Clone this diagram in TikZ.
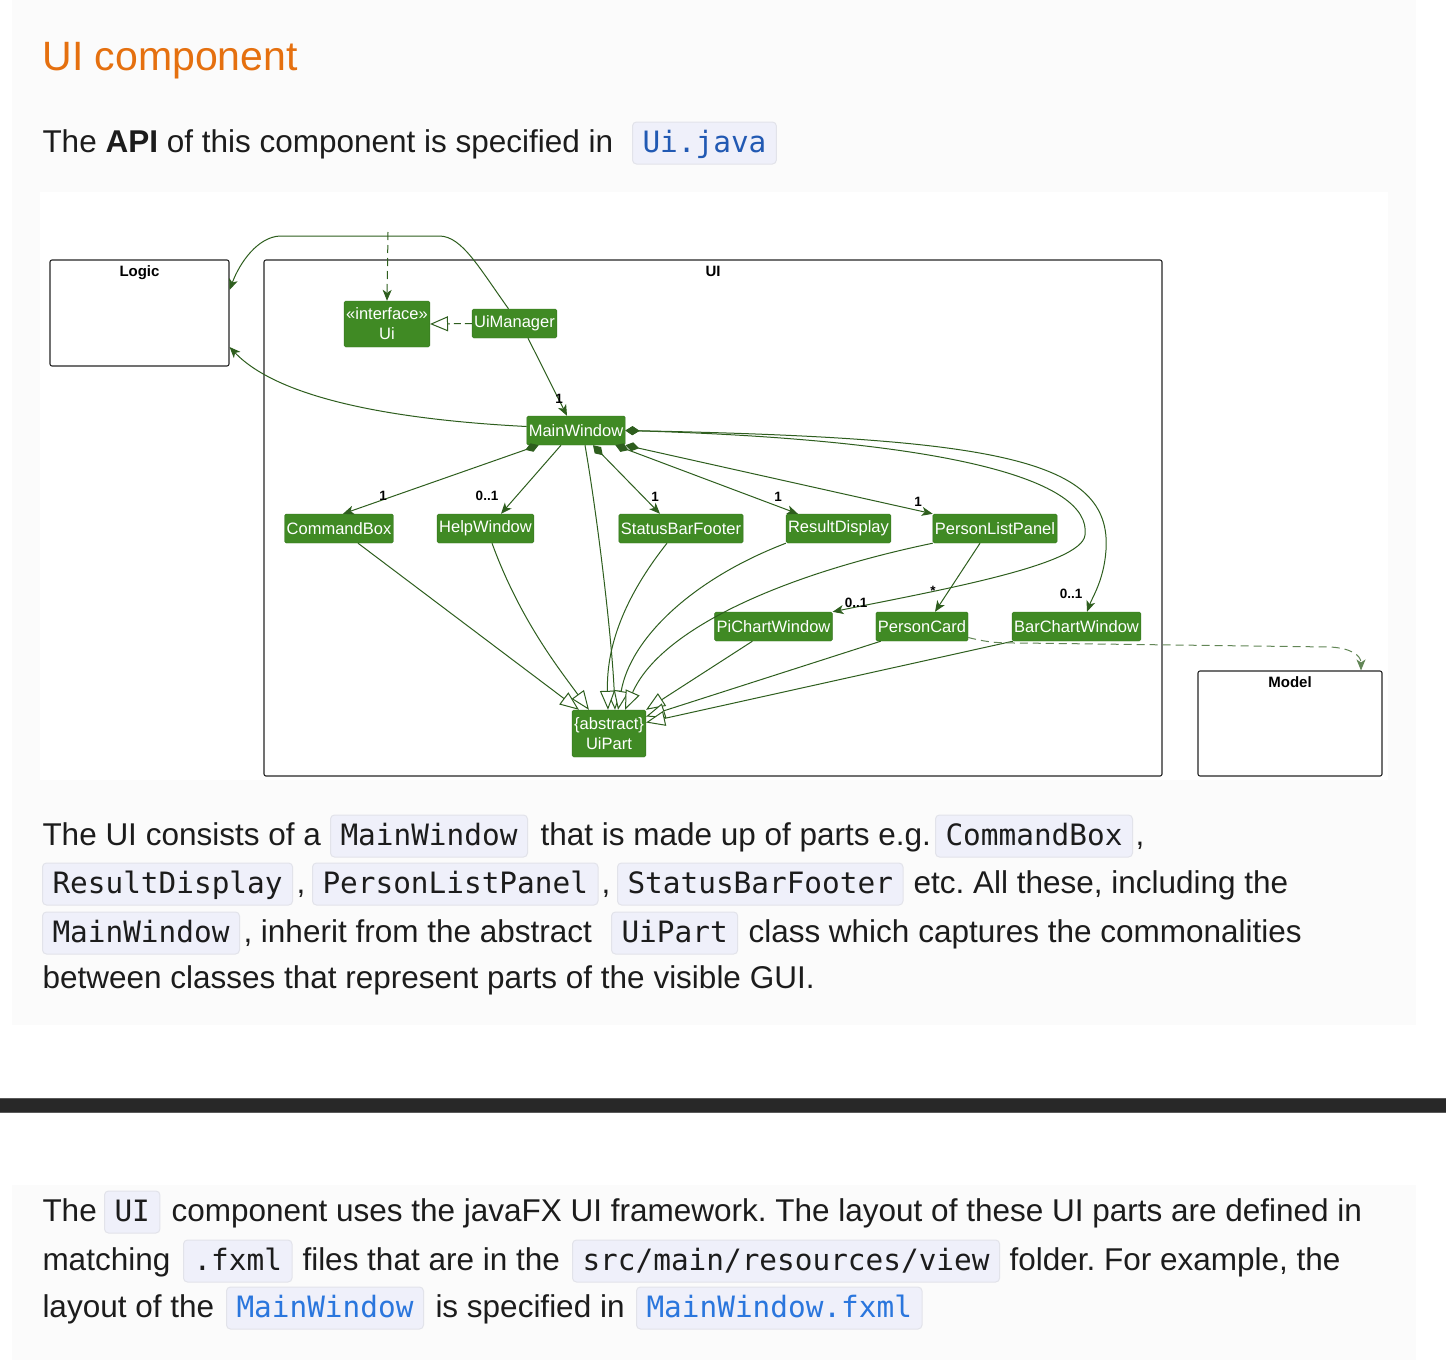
\documentclass[tikz,border=0pt]{standalone}
\usepackage{fontspec}
\setmainfont{Liberation Sans}
\setmonofont{DejaVu Sans Mono}
\usepackage{xcolor}
\usetikzlibrary{arrows.meta,calc,positioning}
\frenchspacing

\definecolor{uigreen}{HTML}{408A24}
\definecolor{uiline}{HTML}{2E5E1E}
\definecolor{pagegray}{HTML}{FBFBFB}
\definecolor{codebg}{HTML}{EFF0FA}
\definecolor{codeborder}{HTML}{E2E3EA}
\definecolor{linkblue}{HTML}{2A76DD}
\definecolor{apiblue}{HTML}{2159B3}
\definecolor{headorange}{HTML}{E5700F}
\definecolor{bodyblack}{HTML}{1C1C1C}
\definecolor{barblack}{HTML}{282828}

\begin{document}
\begin{tikzpicture}[
    x=1pt, y=-1pt,
    line width=1pt,
    cls/.style={fill=uigreen, draw=uigreen!85!black, line width=0.4pt, rounded corners=1.5pt,
      text=white, font=\fontsize{16.5}{20}\selectfont, inner xsep=2pt, inner ysep=0pt,
      minimum height=29pt, align=center},
    pkg/.style={draw=black!85, line width=1.1pt, rounded corners=2pt, inner sep=0pt},
    pkgname/.style={anchor=north, yshift=-6pt, inner sep=0pt, font=\bfseries\fontsize{15}{18}\selectfont},
    mult/.style={font=\bfseries\fontsize{13.5}{15}\selectfont, inner sep=0pt, text=black},
    assoc/.style={draw=uiline, -{Stealth[length=11pt,width=9pt,inset=3pt]}},
    comp/.style={draw=uiline, {Diamond[length=14pt,width=9pt,fill=uiline]}-{Stealth[length=11pt,width=9pt,inset=3pt]}},
    inh/.style={draw=uiline, -{Triangle[length=19pt,width=15pt,fill=white]}},
    real/.style={draw=uiline, dash pattern=on 7pt off 4pt, -{Triangle[length=18pt,width=15pt,fill=white]}},
    dep/.style={draw=uiline, dash pattern=on 8pt off 5pt, -{Stealth[length=11pt,width=9pt,inset=3pt]}},
    txt/.style={anchor=base west, inner sep=0pt, text=bodyblack, font=\fontsize{31.5}{38}\selectfont},
    code/.style={anchor=base west, fill=codebg, draw=codeborder, line width=1pt, rounded corners=4pt,
      inner xsep=10pt, inner ysep=6.5pt, text height=23.5pt, text depth=5.5pt, text=bodyblack,
      font=\ttfamily\fontsize{29.4}{34}\selectfont}
  ]
    \useasboundingbox (0,0) rectangle (1446,1360);

    % page background
    \fill[white] (0,0) rectangle (1446,1360);
    \fill[pagegray] (12,0) rectangle (1416,1025);
    \fill[pagegray] (12,1185) rectangle (1416,1360);
    \fill[white] (40,192) rectangle (1388,780);
    \fill[barblack] (0,1098) rectangle (1446,1113);
    \draw[black!65, line width=1pt] (0,1098.5) -- (1446,1098.5) (0,1112.5) -- (1446,1112.5);

    % heading and first line
    \node[anchor=base west, inner sep=0pt, text=headorange, font=\fontsize{41}{48}\selectfont] (heading) at (42,70) {UI component};
    \node[txt] (apiText) at (42,152) {The \textbf{API} of this component is specified in};
    \node[code, text=apiblue] (apiCode) at (632,152) {Ui.java};

    % packages
    \node[pkg, minimum width=179pt, minimum height=106pt, label={[pkgname]north:Logic}] (Logic) at (139.5,313) {};
    \node[pkg, minimum width=898pt, minimum height=516pt, label={[pkgname]north:UI}] (UIpkg) at (713,518) {};
    \node[pkg, minimum width=184pt, minimum height=105pt, label={[pkgname]north:Model}] (Model) at (1290,723.5) {};

    % classes
    \node[cls, minimum height=46pt] (Ui) at (387,324) {«interface»\\Ui};
    \node[cls] (UiManager) at (514.5,323.5) {UiManager};
    \node[cls] (MainWindow) at (576,430.5) {MainWindow};
    \node[cls] (CommandBox) at (339,528.5) {CommandBox};
    \node[cls] (HelpWindow) at (485.5,528.5) {HelpWindow};
    \node[cls] (StatusBarFooter) at (681,528.5) {StatusBarFooter};
    \node[cls] (ResultDisplay) at (838.5,528.5) {ResultDisplay};
    \node[cls] (PersonListPanel) at (995,528.5) {PersonListPanel};
    \node[cls] (PiChartWindow) at (773.5,626.5) {PiChartWindow};
    \node[cls] (PersonCard) at (922,626.5) {PersonCard};
    \node[cls] (BarChartWindow) at (1076.5,626.5) {BarChartWindow};
    \node[cls, minimum height=47pt] (UiPart) at (609,733.5) {\{abstract\}\\UiPart};

    % Ui, UiManager, Logic
    \coordinate (outside) at (388,232);
    \draw[dep] (outside) -- (Ui.north);
    \draw[real] (UiManager.west) -- (Ui.east);
    \draw[assoc] ([xshift=-6pt]UiManager.north) .. controls (478,266) and (462,237) .. (440,236)
      -- (280,236) .. controls (258,237) and (240,262) .. ([yshift=23pt]Logic.east);
    \draw[assoc] ([xshift=13.5pt]UiManager.south) -- ([xshift=-9pt]MainWindow.north);
    \draw[assoc] ([yshift=4pt]MainWindow.west) .. controls (400,420) and (280,400) .. ([yshift=-34pt]Logic.east);

    % MainWindow parts
    \draw[comp] ([xshift=12pt]MainWindow.south west) -- ([xshift=4pt]CommandBox.north);
    \draw[assoc] ([xshift=-15pt]MainWindow.south) -- ([xshift=15.5pt]HelpWindow.north);
    \draw[comp] ([xshift=17pt]MainWindow.south) -- ([xshift=-21pt]StatusBarFooter.north);
    \draw[comp] ([xshift=-10pt]MainWindow.south east) -- ([xshift=12pt]ResultDisplay.north west);
    \draw[comp] (MainWindow.south east) -- (PersonListPanel.north west);
    \draw[comp] (MainWindow.east) .. controls (950,440) and (1092,480) .. (1085,535)
      .. controls (1082,565) and (940,590) .. (PiChartWindow.north east);
    \draw[comp] (MainWindow.east) .. controls (1000,438) and (1112,460) .. (1106,550)
      .. controls (1104,580) and (1092,598) .. ([xshift=10.5pt]BarChartWindow.north);
    \draw[assoc] ([xshift=-15pt]PersonListPanel.south) -- ([xshift=13pt]PersonCard.north);

    % inheritance
    \draw[inh] ([xshift=19pt]CommandBox.south) -- ([xshift=7pt]UiPart.north west);
    \draw[inh] ([xshift=6.5pt]HelpWindow.south) .. controls (520,620) and (560,670) .. ([xshift=17pt]UiPart.north west);
    \draw[inh] ([xshift=9pt]MainWindow.south) .. controls (598,520) and (612,640) .. ([xshift=6pt]UiPart.north);
    \draw[inh] ([xshift=-14pt]StatusBarFooter.south) .. controls (630,590) and (606,640) .. ([xshift=-1pt]UiPart.north);
    \draw[inh] (ResultDisplay.south west) .. controls (690,580) and (630,640) .. ([xshift=9pt]UiPart.north);
    \draw[inh] (PersonListPanel.south west) .. controls (780,575) and (660,630) .. ([xshift=16pt]UiPart.north);
    \draw[inh] ([xshift=38pt]PiChartWindow.south west) -- (UiPart.north east);
    \draw[inh] ([xshift=5pt]PersonCard.south west) -- ([yshift=17pt]UiPart.east);
    \draw[inh] ([xshift=1pt]BarChartWindow.south west) -- ([yshift=11pt]UiPart.east);

    % Model dependency
    \draw[dep, draw=uiline!75] ([yshift=-11pt]PersonCard.east) .. controls (990,643) and (1000,643) .. (1020,643)
      -- (1330,647) .. controls (1350,648) and (1361,655) .. ([xshift=71pt]Model.north);

    % multiplicities
    \node[mult] (mUiMgr) at (559,399) {1};
    \node[mult] (mCmd) at (383,496) {1};
    \node[mult] (mHelp) at (487,496) {0..1};
    \node[mult] (mStatus) at (655,497) {1};
    \node[mult] (mResult) at (778,497) {1};
    \node[mult] (mList) at (918,502) {1};
    \node[mult] (mPiChart) at (856,603) {0..1};
    \node[mult] (mCard) at (933,591) {*};
    \node[mult] (mBarChart) at (1071,594) {0..1};

    % first paragraph
    \node[txt] (pa1) at (42,845) {The UI consists of a};
    \node[code] (pa2) at (330,845) {MainWindow};
    \node[txt] (pa3) at (540,845) {that is made up of parts e.g.};
    \node[code] (pa4) at (935,845) {CommandBox};
    \node[txt] (pa5) at (1135,845) {,};
    \node[code] (pb1) at (42,893) {ResultDisplay};
    \node[txt] (pb2) at (296,893) {,};
    \node[code] (pb3) at (312,893) {PersonListPanel};
    \node[txt] (pb4) at (601,893) {,};
    \node[code] (pb5) at (617,893) {StatusBarFooter};
    \node[txt] (pb6) at (913,893) {etc. All these, including the};
    \node[code] (pc1) at (42,942) {MainWindow};
    \node[txt] (pc2) at (243,942) {, inherit from the abstract};
    \node[code] (pc3) at (611,942) {UiPart};
    \node[txt] (pc4) at (748,942) {class which captures the commonalities};
    \node[txt] (pd1) at (42,988) {between classes that represent parts of the visible GUI.};

    % second paragraph
    \node[txt] (qa1) at (42,1221) {The};
    \node[code] (qa2) at (104,1221) {UI};
    \node[txt] (qa3) at (171,1221) {component uses the javaFX UI framework. The layout of these UI parts are defined in};
    \node[txt] (qb1) at (42,1270) {matching};
    \node[code] (qb2) at (183,1270) {.fxml};
    \node[txt] (qb3) at (302,1270) {files that are in the};
    \node[code] (qb4) at (572,1270) {src/main/resources/view};
    \node[txt] (qb5) at (1009,1270) {folder. For example, the};
    \node[txt] (qc1) at (42,1317) {layout of the};
    \node[code, text=linkblue] (qc2) at (226,1317) {MainWindow};
    \node[txt] (qc3) at (435,1317) {is specified in};
    \node[code, text=linkblue] (qc4) at (636,1317) {MainWindow.fxml};
  \end{tikzpicture}
\end{document}
